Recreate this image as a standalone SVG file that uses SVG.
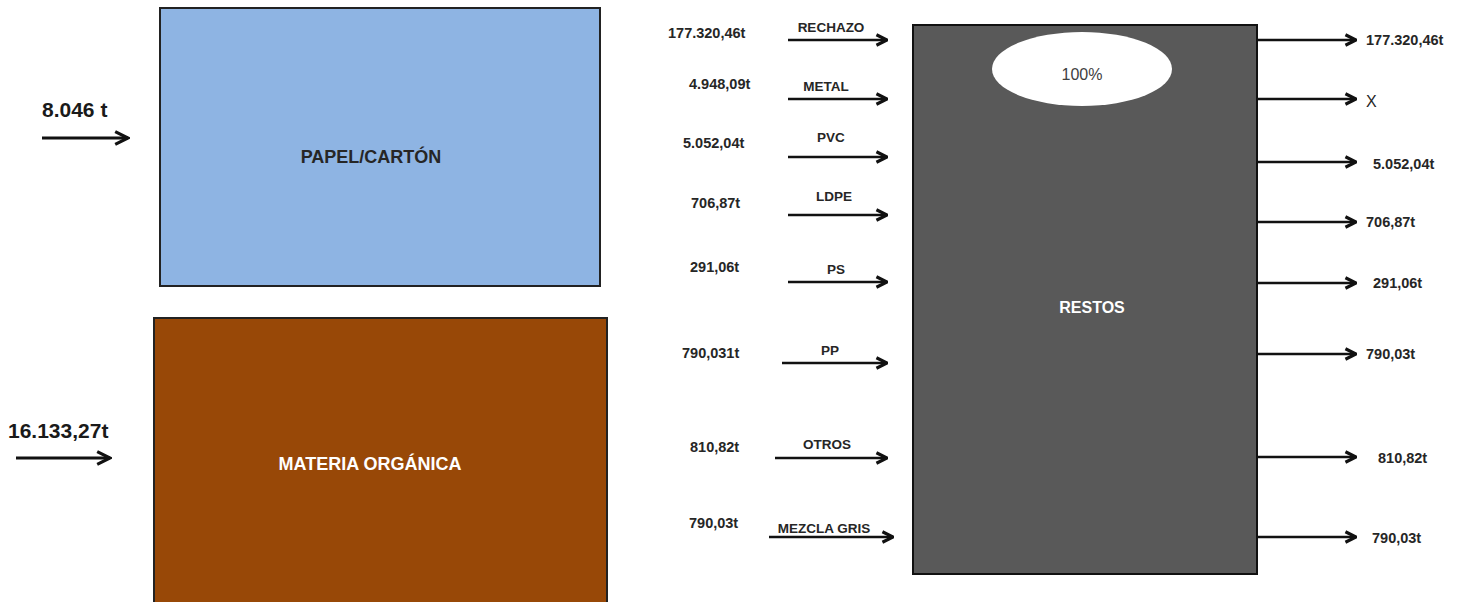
<svg xmlns="http://www.w3.org/2000/svg" width="1468" height="602" viewBox="0 0 1468 602">
<defs>
<marker id="ah" viewBox="0 0 10 10" refX="9" refY="5" markerWidth="5.5" markerHeight="5.5" orient="auto" markerUnits="strokeWidth">
<path d="M1,1 L9,5 L1,9" fill="none" stroke="#111" stroke-width="2.4"/>
</marker>
<marker id="ahb" viewBox="0 0 10 10" refX="9" refY="5" markerWidth="5" markerHeight="5" orient="auto" markerUnits="strokeWidth">
<path d="M1,1 L9,5 L1,9" fill="none" stroke="#111" stroke-width="2"/>
</marker>
</defs>
<style>
text{font-family:"Liberation Sans",Arial,sans-serif;font-weight:bold;fill:#262626}
.v{font-size:14.5px}
.l{font-size:13.5px}
.big{font-size:18px}
.in{font-size:21px;fill:#1a1a1a}
.c line{stroke:#111;stroke-width:2.4;marker-end:url(#ah)}
.c line.b{stroke-width:3.2;marker-end:url(#ahb)}
</style>
<rect width="1468" height="602" fill="#fff"/>
<g id="papel">
<rect x="160" y="8" width="440" height="278" fill="#8EB4E3" stroke="#222" stroke-width="2"/>
<text class="big" x="371" y="163" text-anchor="middle">PAPEL/CARTÓN</text>
</g>
<g id="organica">
<rect x="154" y="318" width="453" height="290" fill="#984807" stroke="#222" stroke-width="2"/>
<text class="big" x="370" y="470" text-anchor="middle" style="fill:#fff">MATERIA ORGÁNICA</text>
</g>
<g id="restos">
<rect x="913" y="25" width="344" height="549" fill="#595959" stroke="#111" stroke-width="2"/>
<ellipse cx="1082" cy="69" rx="90" ry="37" fill="#fff"/>
<text x="1082" y="80" text-anchor="middle" style="font-weight:normal;font-size:16px;fill:#404040">100%</text>
<text x="1092" y="313" text-anchor="middle" style="font-size:16px;fill:#fff">RESTOS</text>
</g>
<g id="connectors" class="c">
<line class="b" x1="42" y1="138" x2="128" y2="138"/>
<line class="b" x1="16" y1="458" x2="110" y2="458"/>
<line x1="788" y1="40" x2="887" y2="40"/>
<line x1="788" y1="99" x2="887" y2="99"/>
<line x1="788" y1="157" x2="887" y2="157"/>
<line x1="788" y1="215" x2="887" y2="215"/>
<line x1="788" y1="282" x2="887" y2="282"/>
<line x1="782" y1="363" x2="887" y2="363"/>
<line x1="775" y1="458" x2="887" y2="458"/>
<line x1="769" y1="537" x2="893" y2="537"/>
<line x1="1257" y1="40" x2="1356" y2="40"/>
<line x1="1257" y1="99" x2="1356" y2="99"/>
<line x1="1257" y1="162" x2="1356" y2="162"/>
<line x1="1257" y1="222" x2="1356" y2="222"/>
<line x1="1257" y1="283" x2="1356" y2="283"/>
<line x1="1257" y1="354" x2="1356" y2="354"/>
<line x1="1257" y1="457" x2="1356" y2="457"/>
<line x1="1257" y1="537" x2="1356" y2="537"/>
</g>
<g id="labels">
<text class="in" x="42" y="117">8.046 t</text>
<text class="in" x="8" y="438">16.133,27t</text>
<text class="v" x="668" y="38">177.320,46t</text>
<text class="v" x="689" y="89">4.948,09t</text>
<text class="v" x="683" y="148">5.052,04t</text>
<text class="v" x="691" y="208">706,87t</text>
<text class="v" x="690" y="272">291,06t</text>
<text class="v" x="682" y="358">790,031t</text>
<text class="v" x="690" y="452">810,82t</text>
<text class="v" x="689" y="528">790,03t</text>
<text class="l" x="831" y="32" text-anchor="middle">RECHAZO</text>
<text class="l" x="826" y="91" text-anchor="middle">METAL</text>
<text class="l" x="831" y="142" text-anchor="middle">PVC</text>
<text class="l" x="834" y="201" text-anchor="middle">LDPE</text>
<text class="l" x="836" y="274" text-anchor="middle">PS</text>
<text class="l" x="830" y="355" text-anchor="middle">PP</text>
<text class="l" x="827" y="449" text-anchor="middle">OTROS</text>
<text class="l" x="824" y="533" text-anchor="middle">MEZCLA GRIS</text>
<text class="v" x="1366" y="45">177.320,46t</text>
<text x="1366" y="107" style="font-weight:normal;font-size:16px">X</text>
<text class="v" x="1373" y="169">5.052,04t</text>
<text class="v" x="1366" y="227">706,87t</text>
<text class="v" x="1373" y="288">291,06t</text>
<text class="v" x="1366" y="359">790,03t</text>
<text class="v" x="1378" y="463">810,82t</text>
<text class="v" x="1372" y="543">790,03t</text>
</g>
</svg>
